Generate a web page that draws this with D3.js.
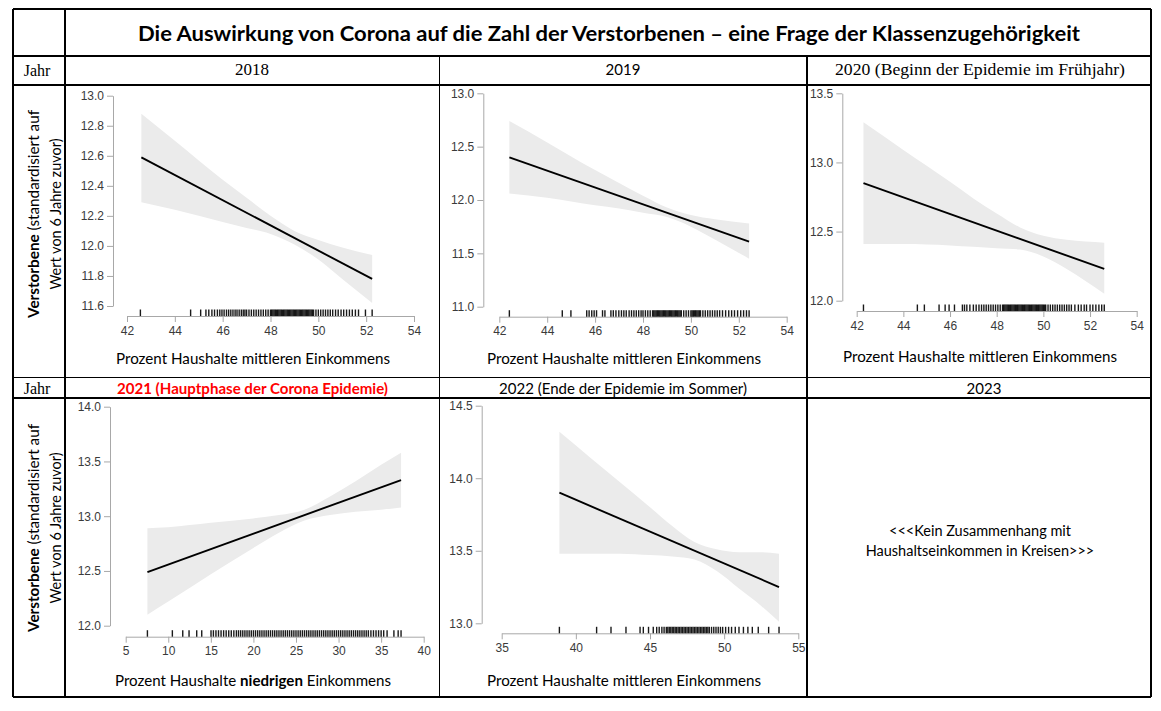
<!DOCTYPE html>
<html>
<head>
<meta charset="utf-8">
<script src="https://cdn.jsdelivr.net/npm/d3@7"></script>
<style>
  body { margin: 0; background: #fff; }
  svg { display: block; }
</style>
</head>
<body>
<div id="chart"></div>
<script>
// ---- DATA ----
const mainTitle = "Die Auswirkung von Corona auf die Zahl der Verstorbenen \u2013 eine Frage der Klassenzugehörigkeit";
const yearLabel = "Jahr";
const panelTitles = ["2018", "2019", "2020 (Beginn der Epidemie im Frühjahr)",
                     "2021 (Hauptphase der Corona Epidemie)", "2022 (Ende der Epidemie im Sommer)", "2023"];
const noEffectText = ["<<<Kein Zusammenhang mit", "Haushaltseinkommen in Kreisen>>>"];

// tick labels
const xTicks2018 = [42, 44, 46, 48, 50, 52, 54];
const yTicks2018 = [11.6, 11.8, 12.0, 12.2, 12.4, 12.6, 12.8, 13.0];
const xTicks2019 = [42, 44, 46, 48, 50, 52, 54];
const yTicks2019 = [11.0, 11.5, 12.0, 12.5, 13.0];
const xTicks2020 = [42, 44, 46, 48, 50, 52, 54];
const yTicks2020 = [12.0, 12.5, 13.0, 13.5];
const xTicks2021 = [5, 10, 15, 20, 25, 30, 35, 40];
const yTicks2021 = [12.0, 12.5, 13.0, 13.5, 14.0];
const xTicks2022 = [35, 40, 45, 50, 55];
const yTicks2022 = [13.0, 13.5, 14.0, 14.5];

// fitted regression line (start, end)
const fitX2018 = [42.6, 52.25],  fitY2018 = [12.59, 11.78];
const fitX2019 = [42.42, 52.43], fitY2019 = [12.40, 11.61];
const fitX2020 = [42.29, 52.61], fitY2020 = [12.85, 12.23];
const fitX2021 = [7.55, 37.34],  fitY2021 = [12.49, 13.33];
const fitX2022 = [38.89, 53.7],  fitY2022 = [13.90, 13.25];

// confidence band
const bandX2018  = [42.6, 44, 46, 47, 48, 49, 50, 51, 52.25];
const bandLo2018 = [12.29, 12.24, 12.16, 12.12, 12.08, 12.01, 11.91, 11.78, 11.62];
const bandHi2018 = [12.88, 12.70, 12.44, 12.32, 12.20, 12.10, 12.04, 11.99, 11.94];

const bandX2019  = [42.42, 44, 46, 47, 48, 49, 50, 51, 52.43];
const bandLo2019 = [12.06, 12.02, 11.95, 11.92, 11.88, 11.84, 11.75, 11.63, 11.45];
const bandHi2019 = [12.74, 12.54, 12.28, 12.16, 12.04, 11.93, 11.86, 11.82, 11.78];

const bandX2020  = [42.29, 44, 46, 47, 48, 49, 50, 51, 52.61];
const bandLo2020 = [12.41, 12.41, 12.40, 12.39, 12.38, 12.37, 12.32, 12.23, 12.05];
const bandHi2020 = [13.29, 13.09, 12.86, 12.74, 12.63, 12.53, 12.47, 12.44, 12.42];

const bandX2021  = [7.55, 10, 15, 20, 23, 26, 29, 32, 35, 37.34];
const bandLo2021 = [12.10, 12.22, 12.47, 12.71, 12.85, 12.96, 13.01, 13.04, 13.06, 13.08];
const bandHi2021 = [12.89, 12.90, 12.94, 12.98, 13.01, 13.06, 13.18, 13.32, 13.47, 13.58];

const bandX2022  = [38.89, 41, 43, 45, 46.5, 48, 49.5, 51, 52.5, 53.7];
const bandLo2022 = [13.48, 13.48, 13.48, 13.47, 13.46, 13.44, 13.36, 13.24, 13.12, 13.01];
const bandHi2022 = [14.32, 14.14, 13.97, 13.80, 13.67, 13.56, 13.51, 13.49, 13.49, 13.48];

// rug: observed x values of the districts
const rug2018 = [42.56, 44.66, 45.08, 45.3, 45.42, 45.55, 45.66, 45.78, 45.88, 45.97, 46.06, 46.16, 46.25,
  46.34, 46.43, 46.52, 46.6, 46.69, 46.78, 46.86, 46.93, 47.0, 47.1, 47.2, 47.3, 47.4, 47.5, 47.6, 47.7,
  47.8, 47.9, 48.0, 48.05, 48.1, 48.15, 48.2, 48.25, 48.3, 48.35, 48.4, 48.45, 48.5, 48.55, 48.6, 48.65,
  48.7, 48.75, 48.8, 48.85, 48.9, 48.95, 49.0, 49.05, 49.1, 49.15, 49.2, 49.25, 49.3, 49.35, 49.4, 49.45,
  49.5, 49.55, 49.6, 49.65, 49.7, 49.75, 49.8, 49.9, 50.0, 50.1, 50.2, 50.3, 50.4, 50.5, 50.6, 50.72,
  50.83, 50.95, 51.06, 51.18, 51.3, 51.42, 51.55, 51.68, 51.97, 52.25];
const rug2019 = [42.42, 44.63, 44.99, 45.65, 45.75, 45.86, 45.96, 46.06, 46.31, 46.41, 46.66, 46.76, 46.87,
  46.99, 47.1, 47.2, 47.3, 47.42, 47.52, 47.62, 47.72, 47.82, 47.92, 48.0, 48.1, 48.2, 48.3, 48.4, 48.45,
  48.5, 48.55, 48.6, 48.65, 48.7, 48.75, 48.8, 48.85, 48.9, 48.95, 49.0, 49.05, 49.1, 49.15, 49.2, 49.25,
  49.3, 49.35, 49.4, 49.45, 49.5, 49.55, 49.6, 49.7, 49.8, 49.9, 50.0, 50.05, 50.1, 50.15, 50.2, 50.25,
  50.3, 50.35, 50.4, 50.5, 50.6, 50.7, 50.8, 50.9, 51.0, 51.1, 51.2, 51.32, 51.45, 51.58, 51.7, 51.82,
  51.95, 52.08, 52.2, 52.32, 52.43];
const rug2020 = [42.29, 44.6, 44.9, 45.53, 45.79, 45.96, 46.19, 46.53, 46.62, 46.72, 46.85, 47.0, 47.12,
  47.24, 47.35, 47.45, 47.55, 47.65, 47.75, 47.85, 47.95, 48.05, 48.15, 48.25, 48.3, 48.35, 48.4, 48.45,
  48.5, 48.55, 48.6, 48.65, 48.7, 48.75, 48.8, 48.85, 48.9, 48.95, 49.0, 49.05, 49.1, 49.15, 49.2, 49.25,
  49.3, 49.35, 49.4, 49.45, 49.5, 49.55, 49.6, 49.65, 49.7, 49.75, 49.8, 49.85, 49.9, 49.95, 50.0, 50.05,
  50.1, 50.2, 50.3, 50.4, 50.5, 50.6, 50.7, 50.8, 50.9, 51.0, 51.1, 51.2, 51.35, 51.5, 51.62, 51.75,
  51.85, 52.0, 52.12, 52.25, 52.38, 52.5, 52.61];
const rug2021 = [7.55, 10.48, 11.7, 12.44, 13.34, 13.93, 15.02, 15.3, 15.6, 15.9, 16.2, 16.5, 16.8, 17.1,
  17.4, 17.7, 18.0, 18.25, 18.5, 18.75, 19.0, 19.25, 19.5, 19.75, 20.0, 20.25, 20.5, 20.75, 21.0, 21.25,
  21.5, 21.75, 22.0, 22.25, 22.5, 22.75, 23.0, 23.25, 23.5, 23.75, 24.0, 24.25, 24.5, 24.75, 25.0, 25.25,
  25.5, 25.75, 26.0, 26.25, 26.5, 26.75, 27.0, 27.25, 27.5, 27.75, 28.0, 28.25, 28.5, 28.75, 29.0, 29.25,
  29.5, 29.75, 30.0, 30.25, 30.5, 30.75, 31.0, 31.25, 31.5, 31.75, 32.0, 32.25, 32.5, 32.75, 33.0, 33.25,
  33.5, 33.8, 34.1, 34.4, 34.7, 35.0, 35.3, 35.7, 36.5, 37.0, 37.34];
const rug2022 = [38.89, 41.4, 42.37, 43.38, 44.33, 44.55, 44.9, 45.22, 45.45, 45.62, 45.8, 45.95, 46.1,
  46.2, 46.3, 46.4, 46.5, 46.6, 46.7, 46.8, 46.9, 47.0, 47.1, 47.2, 47.3, 47.4, 47.5, 47.6, 47.7, 47.8,
  47.9, 48.0, 48.1, 48.2, 48.3, 48.4, 48.5, 48.6, 48.7, 48.8, 48.9, 49.0, 49.15, 49.3, 49.45, 49.6, 49.75,
  49.9, 50.1, 50.3, 50.5, 50.75, 51.0, 51.3, 51.6, 51.9, 52.3, 53.0, 53.7];

const xTitleMiddle = "Prozent Haushalte mittleren Einkommens";

// ---- LAYOUT ----
const width = 1161, height = 711;
const tableL = 13, tableR = 1151, tableT = 9, tableB = 697;
const colJahr = 65, col2 = 439.5, col3 = 807;
const rowTitle = 56, rowHead1 = 85, rowPanel1 = 377.5, rowHead2 = 398;

const svg = d3.select("#chart").append("svg")
  .attr("width", width).attr("height", height);

// table grid
const gridLines = [
  [tableL, tableT, tableR, tableT], [tableL, tableB, tableR, tableB],
  [tableL, tableT, tableL, tableB], [tableR, tableT, tableR, tableB],
  [colJahr, tableT, colJahr, tableB],
  [tableL, rowTitle, tableR, rowTitle], [tableL, rowHead1, tableR, rowHead1],
  [tableL, rowPanel1, tableR, rowPanel1], [tableL, rowHead2, tableR, rowHead2],
  [col2, rowTitle, col2, tableB], [col3, rowTitle, col3, tableB]
];
svg.append("g").selectAll("line").data(gridLines).join("line")
  .attr("x1", d => d[0]).attr("y1", d => d[1]).attr("x2", d => d[2]).attr("y2", d => d[3])
  .attr("stroke", "#000").attr("stroke-width", 1.2).attr("shape-rendering", "crispEdges");

// main title
svg.append("text")
  .attr("x", 609).attr("y", 33)
  .attr("text-anchor", "middle").attr("dominant-baseline", "central")
  .attr("font-family", "Lato, 'Open Sans', sans-serif").attr("font-weight", "bold")
  .attr("font-size", 20).attr("textLength", 942).attr("lengthAdjust", "spacingAndGlyphs")
  .text(mainTitle);

// "Jahr" labels
[70.5, 388].forEach(y => {
  svg.append("text").attr("x", 37).attr("y", y)
    .attr("text-anchor", "middle").attr("dominant-baseline", "central")
    .attr("font-family", "'Liberation Serif', serif").attr("font-size", 16)
    .text(yearLabel);
});

// column headers (target widths)
const heads = [
  {x: 252, y: 69, font: "'Liberation Serif', serif", size: 17, weight: "normal", color: "#000", w: null},
  {x: 623, y: 69, font: "Lato, sans-serif", size: 15, weight: "normal", color: "#000", w: null},
  {x: 980, y: 69, font: "'Liberation Serif', serif", size: 17, weight: "normal", color: "#000", w: 290},
  {x: 252.5, y: 388, font: "Lato, sans-serif", size: 15, weight: "bold", color: "#ff0000", w: 271},
  {x: 623, y: 388, font: "Lato, sans-serif", size: 15, weight: "normal", color: "#000", w: 248},
  {x: 984, y: 388, font: "Lato, sans-serif", size: 15, weight: "normal", color: "#000", w: null}
];
heads.forEach((h, i) => {
  const t = svg.append("text").attr("x", h.x).attr("y", h.y)
    .attr("text-anchor", "middle").attr("dominant-baseline", "central")
    .attr("font-family", h.font).attr("font-size", h.size).attr("font-weight", h.weight)
    .attr("fill", h.color).text(panelTitles[i]);
  if (h.w) t.attr("textLength", h.w).attr("lengthAdjust", "spacingAndGlyphs");
});

// y axis titles
[214, 528].forEach(cy => {
  const g = svg.append("g").attr("transform", `translate(0,${cy})`);
  const t1 = g.append("text").attr("transform", "translate(33,0) rotate(-90)")
    .attr("text-anchor", "middle").attr("dominant-baseline", "central")
    .attr("font-family", "Lato, sans-serif").attr("font-size", 14.5)
    .attr("textLength", 208).attr("lengthAdjust", "spacingAndGlyphs");
  t1.append("tspan").attr("font-weight", "bold").text("Verstorbene");
  t1.append("tspan").text(" (standardisiert auf");
  g.append("text").attr("transform", "translate(55,0) rotate(-90)")
    .attr("text-anchor", "middle").attr("dominant-baseline", "central")
    .attr("font-family", "Lato, sans-serif").attr("font-size", 14.5)
    .text("Wert von 6 Jahre zuvor)");
});

// 2023 text
noEffectText.forEach((s, i) => {
  svg.append("text").attr("x", 980).attr("y", 530 + i * 20)
    .attr("text-anchor", "middle").attr("dominant-baseline", "central")
    .attr("font-family", "Lato, sans-serif").attr("font-size", 14.5)
    .text(s);
});

// ---- PANELS ----
const panels = [
  {fitX: fitX2018, fitY: fitY2018, bX: bandX2018, bLo: bandLo2018, bHi: bandHi2018, rug: rug2018,
   xt: xTicks2018, yt: yTicks2018,
   axX: 113, yR: [306, 95.7], xR: [127, 414], axY: 316, titleX: 253, titleY: 358, low: false},
  {fitX: fitX2019, fitY: fitY2019, bX: bandX2019, bLo: bandLo2019, bHi: bandHi2019, rug: rug2019,
   xt: xTicks2019, yt: yTicks2019,
   axX: 483.3, yR: [306.7, 93.3], xR: [499.3, 786.7], axY: 316.7, titleX: 624, titleY: 358, low: false},
  {fitX: fitX2020, fitY: fitY2020, bX: bandX2020, bLo: bandLo2020, bHi: bandHi2020, rug: rug2020,
   xt: xTicks2020, yt: yTicks2020,
   axX: 842.3, yR: [300.7, 93.3], xR: [856.7, 1136.7], axY: 311, titleX: 980, titleY: 356, low: false},
  {fitX: fitX2021, fitY: fitY2021, bX: bandX2021, bLo: bandLo2021, bHi: bandHi2021, rug: rug2021,
   xt: xTicks2021, yt: yTicks2021,
   axX: 110, yR: [625.7, 406.7], xR: [125.7, 423.7], axY: 636.7, titleX: 253, titleY: 680, low: true},
  {fitX: fitX2022, fitY: fitY2022, bX: bandX2022, bLo: bandLo2022, bHi: bandHi2022, rug: rug2022,
   xt: xTicks2022, yt: yTicks2022,
   axX: 481.7, yR: [623.3, 405.7], xR: [501.7, 798.3], axY: 633.3, titleX: 624, titleY: 680, low: false}
];

panels.forEach(p => {
  const x = d3.scaleLinear().domain([p.xt[0], p.xt[p.xt.length - 1]]).range(p.xR);
  const y = d3.scaleLinear().domain([p.yt[0], p.yt[p.yt.length - 1]]).range(p.yR);
  const g = svg.append("g");

  // confidence band
  const band = p.bX.map((v, i) => ({x: v, lo: p.bLo[i], hi: p.bHi[i]}));
  g.append("path").datum(band)
    .attr("d", d3.area().curve(d3.curveMonotoneX)
      .x(d => x(d.x)).y0(d => y(d.lo)).y1(d => y(d.hi)))
    .attr("fill", "#ebebeb");

  // fit line
  const fit = p.fitX.map((v, i) => ({x: v, y: p.fitY[i]}));
  g.append("path").datum(fit)
    .attr("d", d3.line().x(d => x(d.x)).y(d => y(d.y)))
    .attr("fill", "none").attr("stroke", "#000").attr("stroke-width", 1.9);

  // y axis
  const ya = g.append("g").attr("transform", `translate(${p.axX},0)`)
    .call(d3.axisLeft(y).tickValues(p.yt).tickFormat(d3.format(".1f"))
      .tickSize(6).tickSizeOuter(0).tickPadding(3));
  // x axis
  const xa = g.append("g").attr("transform", `translate(0,${p.axY})`)
    .call(d3.axisBottom(x).tickValues(p.xt).tickFormat(d3.format("d"))
      .tickSize(6).tickSizeOuter(0).tickPadding(4));
  [ya, xa].forEach(a => {
    a.select(".domain").attr("stroke", "#a8a8a8");
    a.selectAll(".tick line").attr("stroke", "#a8a8a8");
    a.selectAll(".tick text").attr("fill", "#3a3a3a")
      .attr("font-family", "'Liberation Sans', Arial, sans-serif").attr("font-size", 12);
  });

  // rug
  g.append("g").selectAll("line").data(p.rug).join("line")
    .attr("x1", d => x(d)).attr("x2", d => x(d))
    .attr("y1", p.axY - 6.5).attr("y2", p.axY)
    .attr("stroke", "#000").attr("stroke-opacity", 0.9).attr("stroke-width", 1.4);

  // x title
  const t = g.append("text").attr("x", p.titleX).attr("y", p.titleY)
    .attr("text-anchor", "middle").attr("dominant-baseline", "central")
    .attr("font-family", "Lato, sans-serif").attr("font-size", 15)
    .attr("textLength", 274).attr("lengthAdjust", "spacingAndGlyphs");
  if (p.low) {
    t.attr("textLength", 276);
    t.append("tspan").text("Prozent Haushalte ");
    t.append("tspan").attr("font-weight", "bold").text("niedrigen");
    t.append("tspan").text(" Einkommens");
  } else {
    t.text(xTitleMiddle);
  }
});
</script>
</body>
</html>
